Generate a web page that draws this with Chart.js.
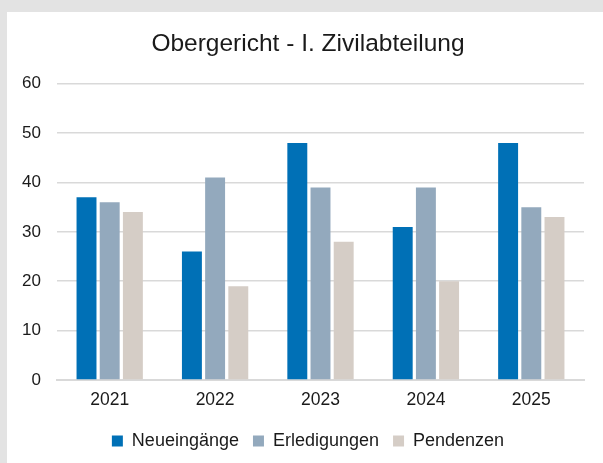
<!DOCTYPE html>
<html>
<head>
<meta charset="utf-8">
<script src="https://cdn.jsdelivr.net/npm/chart.js@4/dist/chart.umd.min.js"></script>
<style>
  html, body { margin: 0; padding: 0; background: #e3e3e3; overflow: hidden; }
  #panel { position: absolute; left: 7px; top: 12px; width: 602px; height: 451px; background: #fff; }
</style>
</head>
<body>
<div id="panel"><canvas id="chart" width="602" height="451"></canvas></div>
<script>
const years = ["2021", "2022", "2023", "2024", "2025"];
const neueingaenge = [37, 26, 48, 31, 48];
const erledigungen = [36, 41, 39, 39, 35];
const pendenzen = [34, 19, 28, 20, 33];
const yTicks = [0, 10, 20, 30, 40, 50, 60];

const fontFamily = "'Liberation Sans', Arial, sans-serif";
const textColor = "#1a1a1a";

const ctx = document.getElementById("chart").getContext("2d");
new Chart(ctx, {
  type: "bar",
  data: {
    labels: years,
    datasets: [
      { label: "Neueingänge", data: neueingaenge, backgroundColor: "#0070b6" },
      { label: "Erledigungen", data: erledigungen, backgroundColor: "#93a9bd" },
      { label: "Pendenzen", data: pendenzen, backgroundColor: "#d5cdc6" },
    ],
  },
  options: {
    responsive: false,
    animation: false,
    categoryPercentage: 0.66,
    barPercentage: 0.86,
    layout: { padding: { left: 0, right: 0, top: 0, bottom: 3 } },
    plugins: {
      tooltip: { enabled: false },
      title: {
        display: true,
        text: "Obergericht - I. Zivilabteilung",
        color: textColor,
        font: { family: fontFamily, size: 24.5, weight: "normal" },
        padding: { top: 18, bottom: 24.3 },
      },
      legend: {
        position: "bottom",
        labels: {
          color: textColor,
          font: { family: fontFamily, size: 18 },
          boxWidth: 11,
          boxHeight: 11,
          padding: 14,
        },
      },
    },
    scales: {
      x: {
        grid: { display: false, drawTicks: false },
        border: { display: true, color: "#d9d9d9", width: 2 },
        ticks: { color: textColor, font: { family: fontFamily, size: 17.5 }, padding: 10 },
        afterFit: (scale) => { scale.height = 38; },
      },
      y: {
        min: 0,
        max: 60,
        afterBuildTicks: (scale) => { scale.ticks = yTicks.map((v) => ({ value: v })); },
        grid: { color: "#d9d9d9", lineWidth: 1.5, drawTicks: false },
        border: { display: false },
        ticks: { color: textColor, font: { family: fontFamily, size: 17 }, padding: 16 },
        afterFit: (scale) => { scale.width = 50; },
      },
      // empty right axis: keeps the plot narrower while title/legend centre over the whole canvas
      spacer: {
        type: "linear",
        axis: "y",
        position: "right",
        grid: { display: false, drawTicks: false },
        border: { display: false },
        ticks: { display: false },
        afterFit: (scale) => { scale.width = 25; },
      },
    },
  },
});
</script>
</body>
</html>
